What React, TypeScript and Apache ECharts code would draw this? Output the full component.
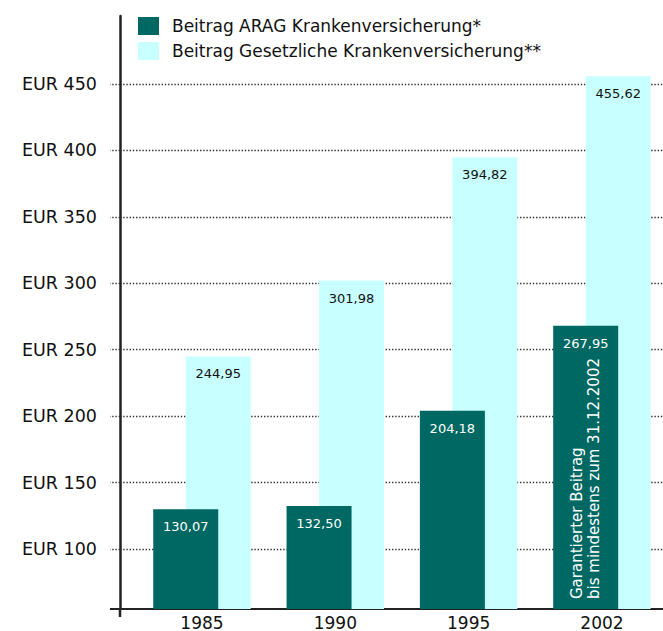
import React, { useEffect, useRef } from "react";
import * as echarts from "echarts";

const years = ["1985", "1990", "1995", "2002"];
const aragValues = [130.07, 132.5, 204.18, 267.95];
const gkvValues = [244.95, 301.98, 394.82, 455.62];
const yTickValues = [100, 150, 200, 250, 300, 350, 400, 450];
const seriesNames = [
  "Beitrag ARAG Krankenversicherung*",
  "Beitrag Gesetzliche Krankenversicherung**",
];
const noteText = "Garantierter Beitrag\nbis mindestens zum 31.12.2002";
const noteIndex = 3;

const X_MIN = -0.615;
const X_MAX = 3.458;
const Y_MIN = 55;
const Y_MAX = 501;

const DARK = "#006862";
const LIGHT = "#C8FFFF";
const FONT = '"DejaVu Sans", Verdana, sans-serif';

const fmt = (v: number) => v.toFixed(2).replace(".", ",");

export default function App() {
  const ref = useRef<HTMLDivElement>(null);

  useEffect(() => {
    const el = ref.current!;
    const chart = echarts.init(el, null, { renderer: "svg" });

    const darkData = aragValues.map((v, i) => {
      if (i === noteIndex) {
        return {
          value: [i, v],
          label: {
            show: true,
            position: "insideBottom",
            rotate: 90,
            align: "left",
            verticalAlign: "middle",
            distance: 10,
            formatter: noteText,
            color: "#ffffff",
            fontSize: 15,
            lineHeight: 17,
          },
        };
      }
      return { value: [i, v] };
    });

    const option: any = {
      animation: false,
      textStyle: { fontFamily: FONT },
      legend: {
        data: seriesNames,
        orient: "vertical",
        left: 138,
        top: 17,
        padding: 0,
        itemGap: 7,
        itemWidth: 21,
        itemHeight: 18,
        icon: "rect",
        textStyle: { fontSize: 17, color: "#111", fontFamily: FONT, padding: [0, 0, 0, 8] },
      },
      grid: { left: 120, right: 0, top: 16, bottom: 21, containLabel: false },
      xAxis: {
        type: "value",
        min: X_MIN,
        max: X_MAX,
        splitLine: { show: false },
        axisTick: { show: false },
        axisLine: { show: true, onZero: false, lineStyle: { color: "#222", width: 2 } },
        axisLabel: {
          customValues: years.map((_, i) => i),
          formatter: (v: number) => years[Math.round(v)] ?? "",
          fontSize: 17,
          color: "#111",
          margin: 5,
        },
      },
      yAxis: {
        type: "value",
        min: Y_MIN,
        max: Y_MAX,
        axisLine: { show: true, onZero: false, lineStyle: { color: "#222", width: 2.5 } },
        axisTick: {
          show: true,
          customValues: yTickValues,
          length: 10,
          lineStyle: { color: "#333", width: 1.4, type: [1.4, 1.8] },
        },
        splitLine: {
          show: true,
          lineStyle: { color: "#333", width: 1.4, type: [1.4, 1.8] },
        },
        axisLabel: {
          customValues: yTickValues,
          formatter: (v: number) => "EUR " + v,
          fontSize: 17.5,
          color: "#111",
          margin: 23,
        },
      },
      series: [
        {
          name: seriesNames[0],
          type: "bar",
          z: 3,
          barWidth: 65,
          barGap: "-50%",
          itemStyle: { color: DARK },
          label: {
            show: true,
            position: "insideTop",
            distance: 11,
            color: "#ffffff",
            fontSize: 13,
            formatter: (p: any) => fmt(p.value[1]),
          },
          data: darkData,
        },
        {
          name: seriesNames[1],
          type: "bar",
          z: 2,
          barWidth: 65,
          barGap: "-50%",
          itemStyle: { color: LIGHT },
          label: {
            show: true,
            position: "insideTop",
            distance: 11,
            color: "#111",
            fontSize: 13,
            formatter: (p: any) => fmt(p.value[1]),
          },
          data: gkvValues.map((v, i) => [i, v]),
        },
      ],
    };

    chart.setOption(option);

    const graphics: any[] = [];
    const origin = chart.convertToPixel({ gridIndex: 0 } as any, [X_MIN, Y_MIN]) as number[];
    if (origin) {
      graphics.push(
        {
          type: "line",
          z: 10,
          shape: { x1: origin[0] - 10, y1: origin[1], x2: origin[0], y2: origin[1] },
          style: { stroke: "#222", lineWidth: 2 },
        },
        {
          type: "line",
          z: 10,
          shape: { x1: origin[0], y1: origin[1], x2: origin[0], y2: origin[1] + 8 },
          style: { stroke: "#222", lineWidth: 2.5 },
        }
      );
    }
    try {
      const layout = (chart as any)
        .getModel()
        .getSeriesByIndex(0)
        .getData()
        .getItemLayout(noteIndex);
      if (layout) {
        const top = Math.min(layout.y, layout.y + layout.height);
        graphics.push({
          type: "text",
          z: 10,
          x: layout.x + layout.width / 2,
          y: top + 11,
          style: {
            text: fmt(aragValues[noteIndex]),
            fill: "#ffffff",
            font: `13px ${FONT}`,
            align: "center",
            verticalAlign: "top",
          },
        });
      }
    } catch (e) {
      // ignore
    }
    chart.setOption({ graphic: graphics });

    return () => chart.dispose();
  }, []);

  return (
    <div
      ref={ref}
      style={{ position: "fixed", left: 0, top: 0, width: 663, height: 631, background: "#fff" }}
    />
  );
}
